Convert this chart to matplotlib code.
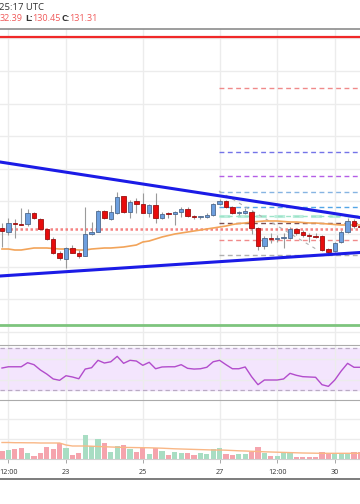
import numpy as np
import matplotlib
matplotlib.use("Agg")
import matplotlib.pyplot as plt

plt.rcParams['font.family'] = ['Open Sans', 'DejaVu Sans']

# 4H candles, index 0..56
opens  = [130.06,130.02,130.11,130.10,130.10,130.21,130.15,130.05,129.95,129.81,
          129.75,129.86,129.81,129.78,130.00,130.02,130.23,130.15,130.21,130.38,
          130.22,130.33,130.30,130.21,130.29,130.16,130.20,130.20,130.22,130.25,
          130.18,130.17,130.17,130.19,130.30,130.33,130.27,130.21,130.21,130.22,
          130.06,129.88,129.96,129.95,129.96,129.96,130.05,130.02,129.99,129.98,
          129.98,129.85,129.83,129.92,130.02,130.13,130.08]
highs  = [130.11,130.16,130.15,130.26,130.25,130.22,130.16,130.05,129.97,129.83,
          129.87,129.89,129.84,130.27,130.12,130.24,130.24,130.29,130.42,130.38,
          130.34,130.36,130.41,130.30,130.41,130.22,130.22,130.23,130.27,130.27,
          130.19,130.18,130.21,130.31,130.35,130.34,130.28,130.23,130.26,130.24,
          130.07,129.98,130.01,129.99,130.01,130.07,130.06,130.04,130.01,130.01,
          129.99,129.86,129.92,130.04,130.16,130.15,130.10]
lows   = [129.87,129.99,129.96,130.09,130.08,130.15,130.04,129.94,129.80,129.74,
          129.66,129.81,129.76,129.78,129.99,130.02,130.15,130.14,130.20,130.21,
          130.16,130.21,130.21,130.17,130.11,130.15,130.16,130.09,130.17,130.17,
          130.15,130.15,130.16,130.18,130.29,130.26,130.20,130.19,130.20,130.00,
          129.84,129.85,129.91,129.92,129.86,129.95,129.99,129.97,129.92,129.96,
          129.83,129.81,129.82,129.91,130.01,130.06,130.05]
closes = [130.03,130.11,130.10,130.09,130.21,130.16,130.05,129.95,129.81,129.76,
          129.86,129.81,129.78,130.00,130.02,130.23,130.16,130.22,130.37,130.22,
          130.32,130.30,130.21,130.29,130.16,130.20,130.195,130.22,130.25,130.18,
          130.17,130.17,130.19,130.30,130.33,130.27,130.21,130.21,130.23,130.06,
          129.88,129.96,129.95,129.96,129.96,130.05,130.01,129.99,129.98,129.97,
          129.84,129.82,129.91,130.02,130.13,130.08,130.07]
ma_line = [129.85,129.85,129.84,129.84,129.85,129.86,129.86,129.86,129.855,129.85,
           129.85,129.845,129.84,129.84,129.85,129.855,129.86,129.86,129.865,129.87,
           129.88,129.89,129.92,129.93,129.95,129.97,129.985,130.00,130.01,130.02,
           130.03,130.04,130.05,130.06,130.07,130.08,130.095,130.105,130.11,130.12,
           130.125,130.13,130.13,130.13,130.125,130.12,130.12,130.115,130.11,130.11,
           130.105,130.10,130.095,130.09,130.09,130.09,130.09]

rsi = [51.1,52.3,52.3,52.3,56.2,54.3,49.2,45.3,40.6,39.3,
       43.7,42.5,40.8,50.1,51.4,58.5,55.9,57.1,62.3,55.6,
       58.5,57.8,53.7,56.6,50.4,52.1,52.3,52.3,54.3,50.8,
       50.1,50.4,51.8,57.1,58.5,54.3,50.4,50.4,52.1,42.8,
       35.1,39.6,39.6,39.6,40.6,46.0,44.1,42.8,42.5,42.2,
       35.1,33.5,39.6,48.2,55.6,51.8,51.8]

volume = [8,9,10,11,6,3.5,6,12,10,16,
          11,4,6,24,13,20,16,7,13,14,
          10,7,11,5,11,8,4,7,6,6,
          4,6,5,10,11,5,4,5,5,7,
          12,6,3,3,6,6,2,2,2,2,
          7,6,5,5,5,7,7]
vol_ma = [16.5,16.5,16.3,16.3,16.2,16.2,16.0,16.0,16.0,16.0,
          14.0,13.0,13.0,13.0,12.8,12.5,12.3,12.0,11.8,11.6,
          11.5,11.4,11.3,11.2,11.0,10.8,10.5,10.2,10.0,9.8,
          9.6,9.4,9.2,9.0,9.0,8.8,8.5,8.2,8.0,7.7,
          7.5,7.2,7.0,6.8,6.6,6.4,6.2,6.0,5.9,5.8,
          5.7,5.7,5.7,5.7,5.7,5.7,5.7]

tick_idx = [1, 10, 22, 34, 43, 52]
tick_labels = ['12:00', '23', '25', '27', '12:00', '30']

# horizontal levels
resistance = 131.97
support = 129.09
current_level = 130.05
fib_start = 33.9
fib_levels = [131.46, 130.82, 130.58, 130.42, 130.27, 130.18, 130.11, 129.94, 129.79]
fib_colors = ['#f08a8a', '#7474e8', '#b45ee6', '#86b4e2', '#54a6e6',
              '#9de3c8', '#7c4f52', '#f08a8a', '#b0b0b0']
upper_x, upper_y = [-0.31, 55.94], [130.72, 130.165]
lower_x, lower_y = [-0.31, 55.94], [129.58, 129.815]
proj_x, proj_y = [33.9, 49.06], [130.43, 129.85]

W, H = 360, 504
fig = plt.figure(figsize=(W / 100, H / 100), dpi=100)


def px_axes(top, bottom):
    return fig.add_axes([0, (H - bottom) / H, 1, (bottom - top) / H])


x = np.arange(len(opens))
xlim = (-0.3125, 55.94)
up = np.array(closes) >= np.array(opens)
grid_c = '#ececec'

# ---- main price pane
ax = px_axes(29, 345)
ax.set_xlim(*xlim)
ax.set_ylim(128.89, 132.05)
ax.set_yticks(np.arange(129.022, 132.0, 0.326))
ax.set_xticks(tick_idx)
ax.grid(True, color=grid_c, lw=1)
ax.tick_params(length=0, labelleft=False, labelbottom=False)
for s in ['left', 'right', 'bottom']:
    ax.spines[s].set_visible(False)
ax.spines['top'].set_color('#8c8c8c')
ax.spines['top'].set_linewidth(1.2)
ax.set_axisbelow(True)

ax.axhline(resistance, color='#f02828', lw=1.6)
ax.axhline(support, color='#7dc47d', lw=2)
ax.hlines(fib_levels, fib_start, xlim[1], colors=fib_colors, lw=1,
          linestyles=(0, (3.5, 2.5)))
ax.hlines(130.18, fib_start, xlim[1], colors='#bdeedd', lw=2.2,
          linestyles=(0, (3.5, 2.5)), zorder=1)
ax.axhline(current_level, color='#f26464', lw=1.8, ls=(0, (1, 1)), alpha=0.8)
ax.plot(proj_x, proj_y, color='#b0b0b0', lw=0.8, ls=(0, (3, 4)))
ax.plot(x, ma_line, color='#f2a45a', lw=1.2)

o = np.array(opens); c = np.array(closes)
bot = np.minimum(o, c)
hgt = np.maximum(np.abs(c - o), 0.012)
ax.vlines(x, lows, highs, color='#9a9a9a', lw=0.8, zorder=3)
ax.bar(x[up], hgt[up], bottom=bot[up], width=0.68, color='#6d9fdf',
       edgecolor='#4f6a8c', lw=0.6, zorder=4)
ax.bar(x[~up], hgt[~up], bottom=bot[~up], width=0.68, color='#e80c0c',
       edgecolor='#9c1010', lw=0.6, zorder=4)

ax.plot(upper_x, upper_y, color='#1b1be6', lw=2.2, zorder=5)
ax.plot(lower_x, lower_y, color='#1b1be6', lw=2.2, zorder=5)

# ---- RSI pane
ar = px_axes(345, 400)
ar.set_xlim(*xlim)
ar.set_ylim(20.4, 73.2)
ar.set_yticks([40, 60])
ar.set_xticks(tick_idx)
ar.grid(True, color=grid_c, lw=1)
ar.tick_params(length=0, labelleft=False, labelbottom=False)
for s in ['left', 'right', 'bottom']:
    ar.spines[s].set_visible(False)
ar.spines['top'].set_color('#ababab')
ar.set_axisbelow(True)
ar.axhspan(30, 70, color='#f3e5fd', zorder=0)
ar.axhline(70, color='#b9aac4', lw=0.9, ls=(0, (3.5, 2.5)))
ar.axhline(30, color='#b9aac4', lw=0.9, ls=(0, (3.5, 2.5)))
ar.plot(x, rsi, color='#b24ccc', lw=1)

# ---- volume pane
av = px_axes(400, 459)
av.set_xlim(*xlim)
av.set_ylim(0, 59)
av.set_yticks([20, 40])
av.set_xticks(tick_idx)
av.grid(True, color=grid_c, lw=1)
av.tick_params(length=0, labelleft=False, labelbottom=False)
for s in ['left', 'right', 'bottom']:
    av.spines[s].set_visible(False)
av.spines['top'].set_color('#ababab')
av.set_axisbelow(True)
vol = np.array(volume)
av.bar(x[up], vol[up], width=0.8, color='#a8ddc3', zorder=2)
av.bar(x[~up], vol[~up], width=0.8, color='#f5a4ad', zorder=2)
av.plot(x, vol_ma, color='#f9b786', lw=1, zorder=3)

# ---- time axis
at = px_axes(459, 479)
at.set_xlim(*xlim)
at.set_ylim(0, 1)
at.set_yticks([])
at.set_xticks(tick_idx)
at.set_xticklabels(tick_labels, fontsize=5.2, color='#333333')
at.xaxis.set_ticks_position('top')
at.tick_params(axis='x', direction='in', length=3, width=0.6, color='#999999',
               labeltop=False, labelbottom=True, pad=-7.5)
for s in ['left', 'right']:
    at.spines[s].set_visible(False)
at.spines['top'].set_color('#d0d0d0')
at.spines['bottom'].set_color('#666666')
at.spines['bottom'].set_linewidth(1.2)

# ---- header
fig.text(-1 / W, 1 - 7 / H, '25:17 UTC', fontsize=6.8, color='#333333', va='center')
y2 = 1 - 18.5 / H
fig.text(0 / W, y2, '32.39', fontsize=6.5, color='#f05a5a', va='center')
fig.text(25 / W, y2, 'L:', fontsize=6.5, color='#333333', va='center', weight='bold')
fig.text(32 / W, y2, '130.45', fontsize=6.5, color='#f05a5a', va='center')
fig.text(62 / W, y2, 'C:', fontsize=6.5, color='#333333', va='center', weight='bold')
fig.text(69 / W, y2, '131.31', fontsize=6.5, color='#f05a5a', va='center')

fig.savefig('out.png', dpi=100)
